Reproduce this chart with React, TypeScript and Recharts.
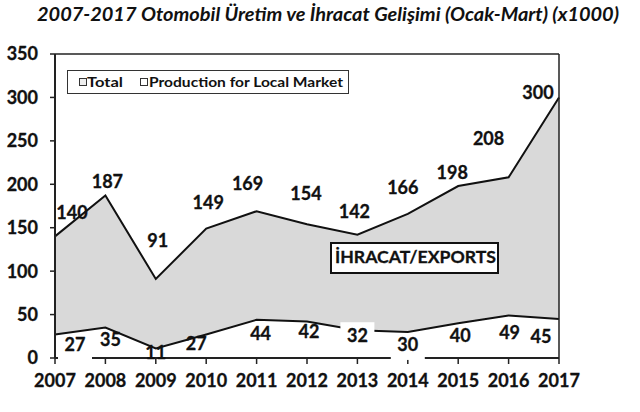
import React from "react";
import { ComposedChart, Area, XAxis, YAxis, ReferenceLine } from "recharts";

const years = [2007, 2008, 2009, 2010, 2011, 2012, 2013, 2014, 2015, 2016, 2017];
const totalValues = [140, 187, 91, 149, 169, 154, 142, 166, 198, 208, 300];
const localValues = [27, 35, 11, 27, 44, 42, 32, 30, 40, 49, 45];
const yTicks = [0, 50, 100, 150, 200, 250, 300, 350];

const titleText = "2007-2017 Otomobil Üretim ve İhracat Gelişimi (Ocak-Mart) (x1000)";
const legendTotal = "Total";
const legendLocal = "Production for Local Market";
const exportText = "İHRACAT/EXPORTS";

// label offsets (px) relative to the data point
const totalLabelOffsets = [[17, -24], [2, -14], [2, -38], [2, -26], [-9, -28], [-1, -31], [-3, -23], [-5, -26], [-6, -14], [-20, -39], [-21, -5]];
const localLabelOffsets = [[20, 10], [5, 12], [0, 4], [-10, 9], [4, 14], [2, 10], [0, 5], [0, 13], [2, 12], [1, 17], [-18, 18]];
const localLabelBoxes: (number[] | null)[] = [[-9, 15], null, null, null, null, null, [-13, 7], [-9, 15], null, null, null];

const data = years.map((year, i) => ({ year, total: totalValues[i], local: localValues[i] }));

const FONT = "Lato, 'Open Sans', sans-serif";
const INK = "#111";

const makeLabel = (offsets: number[][], boxes?: (number[] | null)[]) => (props: any) => {
  const { x, y, value, index } = props;
  if (x == null || y == null) return null;
  const [dx, dy] = offsets[index] || [0, 0];
  const cx = x + dx;
  const cy = y + dy;
  const box = boxes ? boxes[index] : null;
  return (
    <g key={`lbl-${index}`}>
      {box && <rect x={cx - 17} y={cy + box[0]} width={34} height={box[1] - box[0]} fill="#fff" />}
      <text x={cx} y={cy} dy="0.36em" textAnchor="middle" fontFamily={FONT} fontWeight={700} fontSize={18} fill={INK} stroke={INK} strokeWidth={0.3}>
        {value}
      </text>
    </g>
  );
};

const tickStyle = { fontFamily: FONT, fontWeight: 700, fontSize: 18, fill: INK, stroke: INK, strokeWidth: 0.3 };

export default function App() {
  return (
    <div style={{ position: "absolute", left: 0, top: 0, width: 640, height: 412, background: "#fff" }}>
      <ComposedChart width={640} height={412} data={data} margin={{ top: 54, right: 81, bottom: 0, left: 0 }}>
        <XAxis
          dataKey="year"
          type="number"
          domain={[2007, 2017]}
          ticks={years}
          interval={0}
          height={54}
          tickSize={6}
          tickMargin={10}
          axisLine={{ stroke: "#222", strokeWidth: 2 }}
          tickLine={{ stroke: "#222", strokeWidth: 1.5 }}
          tick={tickStyle}
        />
        <YAxis
          type="number"
          domain={[0, 350]}
          ticks={yTicks}
          interval={0}
          width={55}
          tickSize={5}
          tickMargin={12}
          axisLine={{ stroke: "#222", strokeWidth: 2 }}
          tickLine={{ stroke: "#222", strokeWidth: 1.5 }}
          tick={tickStyle}
        />
        <ReferenceLine y={350} stroke="#222" strokeWidth={1.5} />
        <ReferenceLine x={2017} stroke="#222" strokeWidth={1.5} />
        <Area
          type="linear"
          dataKey="total"
          name={legendTotal}
          stroke={INK}
          strokeWidth={2}
          fill="#d9d9d9"
          fillOpacity={1}
          isAnimationActive={false}
          dot={false}
          activeDot={false}
          label={makeLabel(totalLabelOffsets)}
        />
        <Area
          type="linear"
          dataKey="local"
          name={legendLocal}
          stroke={INK}
          strokeWidth={2}
          fill="#ffffff"
          fillOpacity={1}
          isAnimationActive={false}
          dot={false}
          activeDot={false}
          label={makeLabel(localLabelOffsets, localLabelBoxes)}
        />
      </ComposedChart>
      <svg width={640} height={412} style={{ position: "absolute", left: 0, top: 0, pointerEvents: "none" }}>
        <text x={37} y={21} textLength={582} lengthAdjust="spacingAndGlyphs" fontFamily={FONT} fontStyle="italic" fontWeight={700} fontSize={19} fill={INK}>
          {titleText}
        </text>
        <rect x={67.5} y={70.5} width={281} height={23} fill="#fff" stroke="#333" strokeWidth={1} />
        <rect x={79.5} y={78.5} width={7} height={7} fill="#eee" stroke="#333" strokeWidth={1} />
        <text x={87} y={87} textLength={36} lengthAdjust="spacingAndGlyphs" fontFamily={FONT} fontWeight={700} fontSize={14} fill={INK}>{legendTotal}</text>
        <rect x={140.5} y={78.5} width={7} height={7} fill="#fff" stroke="#333" strokeWidth={1} />
        <text x={149} y={87} textLength={194} lengthAdjust="spacingAndGlyphs" fontFamily={FONT} fontWeight={700} fontSize={14} fill={INK}>{legendLocal}</text>
        <rect x={331} y={243} width={167} height={30} fill="#fff" stroke="#111" strokeWidth={2} />
        <text x={335} y={263} textLength={161} lengthAdjust="spacingAndGlyphs" fontFamily={FONT} fontWeight={700} fontSize={17} fill={INK} stroke={INK} strokeWidth={0.3}>{exportText}</text>
      </svg>
    </div>
  );
}
